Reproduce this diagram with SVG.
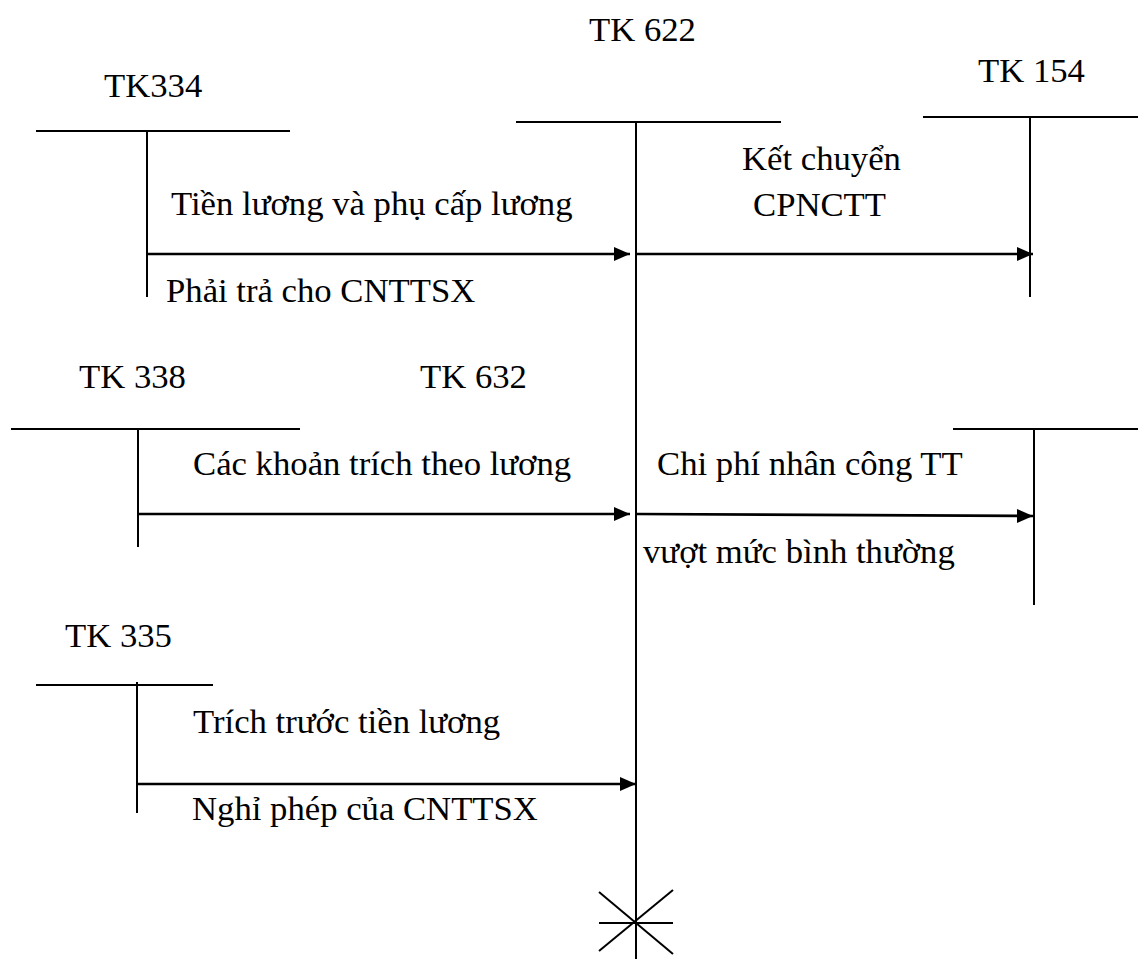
<svg xmlns="http://www.w3.org/2000/svg" width="1138" height="959" viewBox="0 0 1138 959">
<style>
text{font-family:"Liberation Serif","Times New Roman",serif;font-size:34.7px;fill:#000}
.t{stroke:#000;stroke-width:2;fill:none}
.a{stroke:#000;stroke-width:2.6;fill:none;marker-end:url(#ah)}
</style>
<defs>
<marker id="ah" markerUnits="userSpaceOnUse" markerWidth="16" markerHeight="16" viewBox="0 0 16 16" refX="16" refY="8" orient="auto">
<path d="M0,1 L16,8 L0,15 Z" fill="#000"/>
</marker>
</defs>
<rect width="1138" height="959" fill="#fff"/>
<g id="tk334">
<line class="t" x1="36" y1="131" x2="290" y2="131"/>
<line class="t" x1="147" y1="131" x2="147" y2="297"/>
<text x="104" y="97">TK334</text>
</g>
<g id="tk622">
<line class="t" x1="516" y1="122" x2="781" y2="122"/>
<line class="t" x1="636" y1="122" x2="636" y2="959"/>
<text x="589" y="41">TK 622</text>
<line class="t" x1="599" y1="892" x2="673" y2="954"/>
<line class="t" x1="673" y1="890" x2="599" y2="951"/>
<line class="t" x1="599" y1="923" x2="673" y2="923"/>
</g>
<g id="tk154">
<line class="t" x1="923" y1="117" x2="1138" y2="117"/>
<line class="t" x1="1030" y1="117" x2="1030" y2="297"/>
<text x="978" y="82">TK 154</text>
</g>
<g id="tk338">
<line class="t" x1="11" y1="429" x2="300" y2="429"/>
<line class="t" x1="138" y1="429" x2="138" y2="547"/>
<text x="79" y="388">TK 338</text>
</g>
<g id="tk632">
<line class="t" x1="953" y1="429" x2="1138" y2="429"/>
<line class="t" x1="1034" y1="429" x2="1034" y2="605"/>
<text x="420" y="388">TK 632</text>
</g>
<g id="tk335">
<line class="t" x1="36" y1="685" x2="213" y2="685"/>
<line class="t" x1="137" y1="682" x2="137" y2="813"/>
<text x="65" y="647">TK 335</text>
</g>
<g id="connectors">
<line class="a" x1="147" y1="254" x2="630" y2="254"/>
<line class="a" x1="636" y1="254" x2="1033" y2="254"/>
<line class="a" x1="138" y1="514" x2="630" y2="514"/>
<line class="a" x1="636" y1="514" x2="1033" y2="516"/>
<line class="a" x1="137" y1="784" x2="636" y2="784"/>
</g>
<g id="labels">
<text x="171" y="215">Tiền lương và phụ cấp lương</text>
<text x="166" y="302">Phải trả cho CNTTSX</text>
<text x="742" y="170">Kết chuyển</text>
<text x="753" y="216">CPNCTT</text>
<text x="193" y="475">Các khoản trích theo lương</text>
<text x="657" y="475">Chi phí nhân công TT</text>
<text x="643" y="563">vượt mức bình thường</text>
<text x="193" y="733">Trích trước tiền lương</text>
<text x="192" y="820">Nghỉ phép của CNTTSX</text>
</g>
</svg>
